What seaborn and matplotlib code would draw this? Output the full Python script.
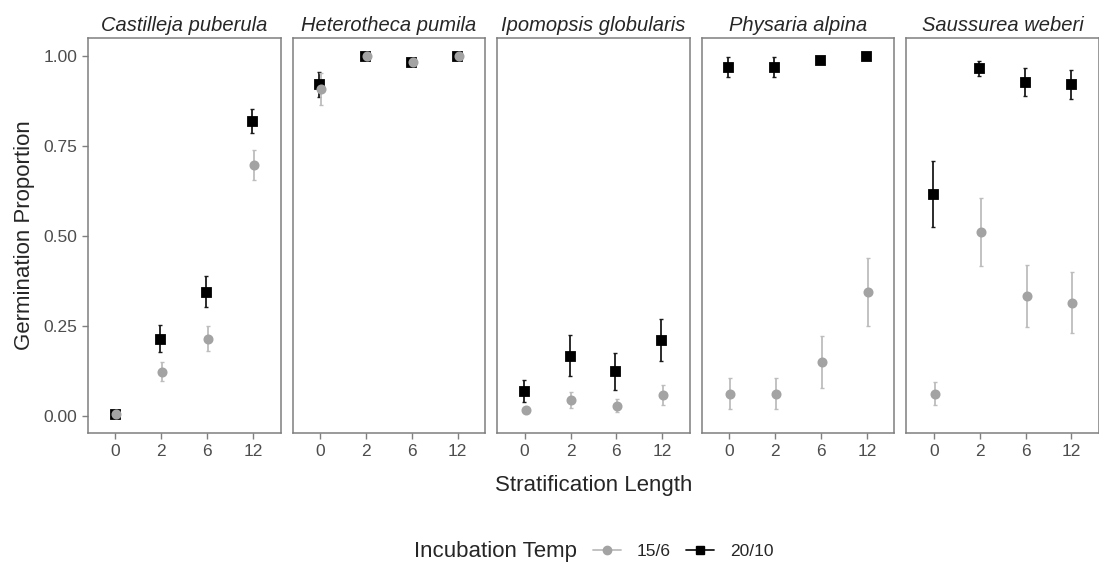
import matplotlib
matplotlib.use("Agg")
import matplotlib.pyplot as plt
import seaborn as sns
import pandas as pd
from matplotlib.lines import Line2D
from matplotlib.offsetbox import HPacker

species = ["Castilleja puberula", "Heterotheca pumila", "Ipomopsis globularis",
           "Physaria alpina", "Saussurea weberi"]
strat = ["0", "2", "6", "12"]
temps = ["15/6", "20/10"]

# mean germination proportion per species, strat order 0, 2, 6, 12
mean_cool = [[0.005, 0.123, 0.215, 0.698],
             [0.909, 1.000, 0.984, 1.000],
             [0.016, 0.045, 0.028, 0.058],
             [0.062, 0.062, 0.150, 0.345],
             [0.062, 0.511, 0.334, 0.315]]
se_cool = [[0.003, 0.027, 0.035, 0.041],
           [0.045, 0.002, 0.008, 0.002],
           [0.008, 0.022, 0.018, 0.027],
           [0.043, 0.043, 0.072, 0.094],
           [0.033, 0.095, 0.087, 0.084]]
mean_warm = [[0.006, 0.215, 0.345, 0.821],
             [0.923, 1.000, 0.986, 1.000],
             [0.070, 0.167, 0.124, 0.211],
             [0.970, 0.970, 0.991, 1.000],
             [0.617, 0.967, 0.929, 0.923]]
se_warm = [[0.003, 0.037, 0.043, 0.033],
           [0.035, 0.004, 0.008, 0.002],
           [0.030, 0.057, 0.052, 0.058],
           [0.028, 0.028, 0.004, 0.002],
           [0.092, 0.021, 0.038, 0.040]]

rows = []
for i, sp in enumerate(species):
    for j, s in enumerate(strat):
        rows.append([sp, s, "15/6", mean_cool[i][j], se_cool[i][j]])
        rows.append([sp, s, "20/10", mean_warm[i][j], se_warm[i][j]])
df = pd.DataFrame(rows, columns=["species", "strat", "temp", "prop", "se"])

point_col = {"15/6": "#A3A3A3", "20/10": "#000000"}
bar_col = {"15/6": "#BDBDBD", "20/10": "#1A1A1A"}
marks = {"15/6": "o", "20/10": "s"}
# draw order: black squares first, grey circles on top, small dodge
draw_order = ["20/10", "15/6"]
dodge_w = 0.04
offs = {"20/10": -dodge_w / 2, "15/6": dodge_w / 2}

sns.set_style("white")
plt.rcParams["font.family"] = ["Liberation Sans", "DejaVu Sans"]

fig, axes = plt.subplots(1, 5, figsize=(10.99, 5.64), dpi=100, sharey=True)
fig.subplots_adjust(left=0.080, right=1.0, top=0.933, bottom=0.232, wspace=0.062)

for ax, sp in zip(axes, species):
    sub = df[df["species"] == sp]
    for t in draw_order:
        d = sub[sub["temp"] == t]
        xs = [strat.index(s) + offs[t] for s in d["strat"]]
        ax.errorbar(xs, d["prop"], yerr=d["se"], fmt="none",
                    ecolor=bar_col[t], elinewidth=1.3, capsize=1.2,
                    capthick=1.0, zorder=2)
    sns.pointplot(data=sub, x="strat", y="prop", hue="temp", order=strat,
                  hue_order=draw_order, palette=point_col, markers=["s", "o"],
                  linestyles="none", errorbar=None, dodge=dodge_w,
                  markersize=5.2, ax=ax, legend=False, zorder=3)
    ax.set_xlim(-0.6, 3.6)
    ax.set_ylim(-0.048, 1.052)
    ax.set_yticks([0, 0.25, 0.5, 0.75, 1.0])
    ax.set_yticklabels(["0.00", "0.25", "0.50", "0.75", "1.00"])
    ax.set_title(sp, fontstyle="italic", fontsize=14.5, pad=5)
    ax.set_xlabel("")
    ax.set_ylabel("")
    for side in ax.spines.values():
        side.set_visible(True)
        side.set_color("#7F7F7F")
        side.set_linewidth(1.1)
    ax.tick_params(axis="both", which="both", length=4, width=1, color="#7F7F7F",
                   labelcolor="#4D4D4D", labelsize=12.5, direction="out",
                   bottom=True, left=(ax is axes[0]))

axes[0].set_ylabel("Germination Proportion", fontsize=16, labelpad=6)
fig.text(0.54, 0.14, "Stratification Length", fontsize=16, ha="center", va="center")

handles = [Line2D([0], [0], color=bar_col[t], marker=marks[t], markersize=6,
                  markerfacecolor=point_col[t], markeredgecolor=point_col[t], lw=1.3)
           for t in temps]
leg = fig.legend(handles, temps, title="Incubation Temp", loc="center",
                 bbox_to_anchor=(0.54, 0.022), ncol=2, frameon=False,
                 fontsize=12.5, title_fontsize=16, handlelength=1.6,
                 handletextpad=0.9, columnspacing=0.9)
# put the title to the left of the entries, like ggplot's bottom legend
title_box = leg._legend_box._children[0]
entries = leg._legend_box._children[1]
leg._legend_box._children = [HPacker(children=[title_box, entries], align="center",
                                     pad=0, sep=12)]

fig.savefig("out.png", dpi=100)
